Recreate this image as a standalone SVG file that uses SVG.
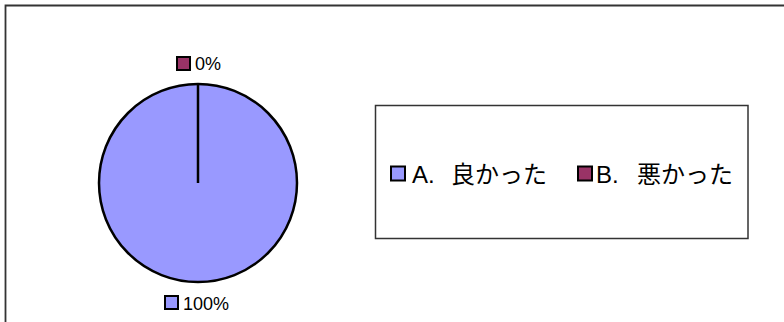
<svg xmlns="http://www.w3.org/2000/svg" width="784" height="322" viewBox="0 0 784 322">
<style>
text{font-family:"Liberation Sans","Noto Sans CJK JP",sans-serif;fill:#000}
.lbl{font-size:18px}
.leg{font-size:24px}
.a{fill:#9999FF;stroke:#000;stroke-width:2}
.b{fill:#993366;stroke:#000;stroke-width:2}
</style>
<rect width="784" height="322" fill="#fff"/>
<path d="M5.5 330 V5.5 H790" fill="none" stroke="#333" stroke-width="1.8"/>
<g id="pie">
<circle cx="198" cy="183" r="99" fill="#9999FF" stroke="#000" stroke-width="2.5"/>
<line x1="198" y1="84" x2="198" y2="183" stroke="#000" stroke-width="2.5"/>
</g>
<g id="label-b">
<rect class="b" x="177" y="57" width="13" height="13"/>
<text class="lbl" x="195" y="70">0%</text>
</g>
<g id="label-a">
<rect class="a" x="165" y="296" width="13" height="13"/>
<text class="lbl" x="183" y="309.5">100%</text>
</g>
<g id="legend">
<rect x="375.5" y="105.5" width="372.5" height="133" fill="#fff" stroke="#333" stroke-width="1.5"/>
<rect class="a" x="391" y="166.5" width="14" height="14"/>
<text class="leg" y="182.5"><tspan x="412">A. </tspan><tspan x="451">良かった</tspan></text>
<rect class="b" x="578" y="166.5" width="14" height="14"/>
<text class="leg" y="182.5"><tspan x="596">B. </tspan><tspan x="637">悪かった</tspan></text>
</g>
</svg>
